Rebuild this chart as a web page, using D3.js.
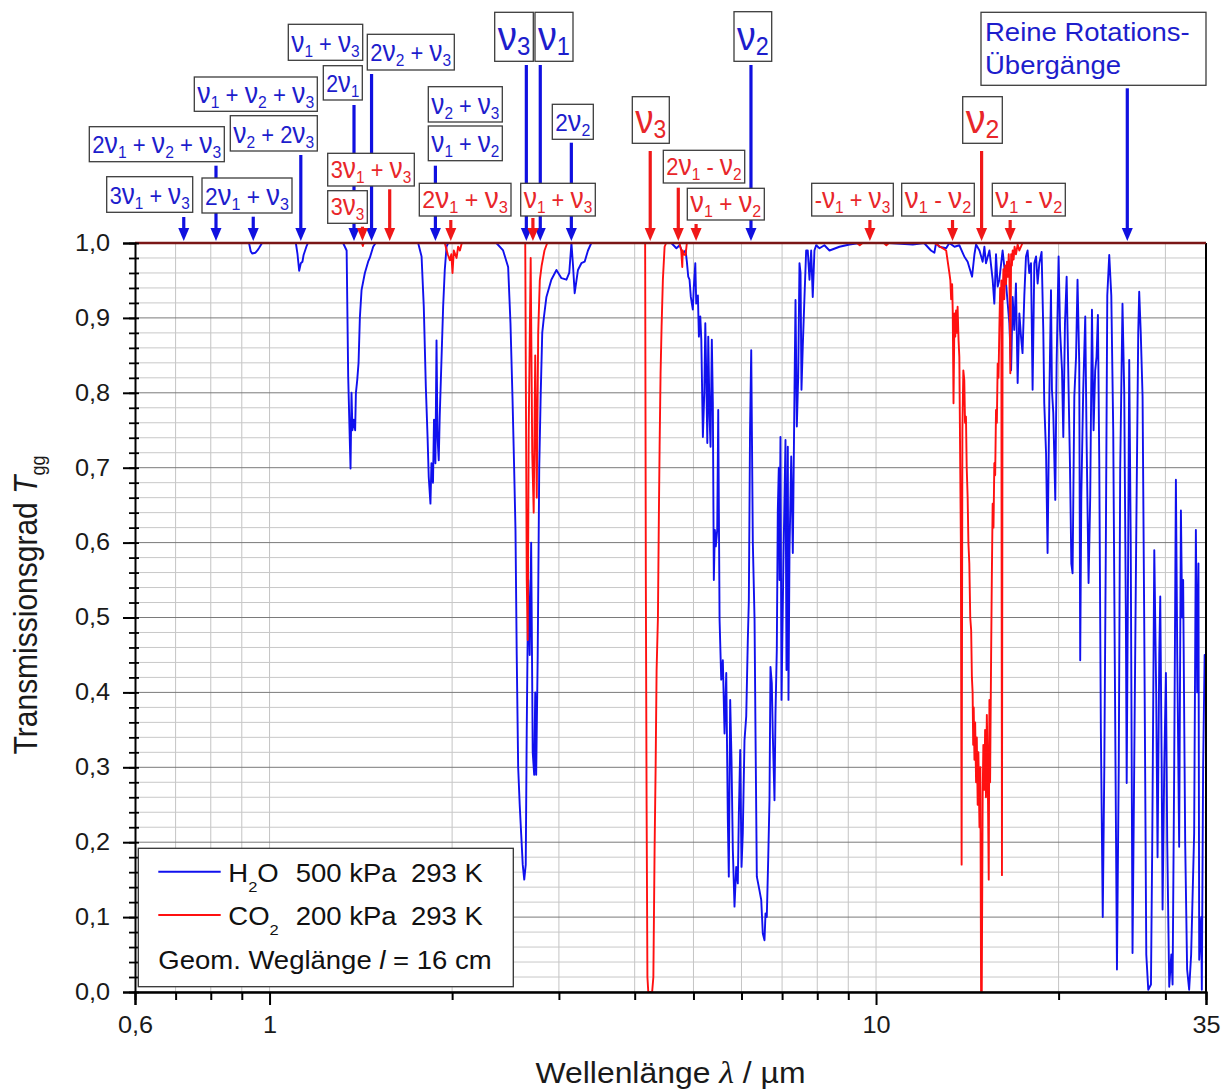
<!DOCTYPE html>
<html>
<head>
<meta charset="utf-8">
<script src="https://cdn.jsdelivr.net/npm/d3@7"></script>
<style>
  body { margin: 0; background: #fff; }
  svg text { font-family: "Liberation Sans", Arial, sans-serif; }
</style>
</head>
<body>
<svg id="chart" width="1228" height="1089"></svg>
<script>
// ---- Spectra: [wavelength in µm, transmission] ----
const h2oSpectrum = [
  [0.6,1.0],[0.925,1.0],[0.931,0.989],[0.936,0.986],[0.948,0.987],[0.955,0.990],[0.962,0.994],[0.972,1.0],
  [1.105,1.0],[1.112,0.985],[1.119,0.963],[1.126,0.973],[1.133,0.975],[1.138,0.984],[1.150,0.995],[1.157,1.0],
  [1.322,1.0],[1.340,0.99],[1.348,0.821],[1.357,0.728],[1.360,0.699],[1.365,0.80],[1.370,0.75],[1.377,0.764],
  [1.384,0.75],[1.388,0.80],[1.395,0.817],[1.402,0.84],[1.409,0.90],[1.418,0.937],[1.436,0.96],[1.454,0.975],
  [1.463,0.98],[1.482,0.995],[1.496,1.0],
  [1.758,1.0],[1.781,0.982],[1.796,0.915],[1.810,0.808],[1.822,0.741],[1.830,0.688],[1.842,0.652],[1.849,0.706],
  [1.860,0.68],[1.867,0.764],[1.877,0.706],[1.885,0.87],[1.892,0.741],[1.901,0.71],[1.908,0.768],[1.920,0.839],
  [1.933,0.915],[1.945,0.964],[1.958,0.995],[1.970,1.0],
  [2.366,1.0],[2.427,0.99],[2.474,0.968],[2.496,0.893],[2.515,0.795],[2.530,0.706],[2.544,0.617],[2.556,0.45],
  [2.570,0.30],[2.585,0.25],[2.600,0.21],[2.615,0.17],[2.630,0.15],[2.645,0.17],[2.655,0.35],[2.670,0.55],
  [2.685,0.45],[2.700,0.60],[2.716,0.32],[2.731,0.29],[2.742,0.40],[2.752,0.29],[2.768,0.45],[2.784,0.70],
  [2.800,0.80],[2.816,0.88],[2.833,0.90],[2.861,0.928],[2.915,0.951],[2.972,0.964],[3.029,0.953],[3.087,0.951],
  [3.120,0.96],[3.146,1.0],[3.165,0.97],[3.185,0.933],[3.225,0.964],[3.267,0.973],[3.308,0.975],[3.350,0.99],[3.393,1.0],
  [4.597,1.0],[4.686,0.993],[4.745,0.997],[4.804,0.986],[4.853,0.99],[4.876,0.975],[4.902,0.955],[4.926,0.951],
  [4.950,0.928],[4.988,0.911],[5.007,0.942],[5.035,0.973],[5.053,0.919],[5.085,0.93],[5.104,0.875],[5.131,0.902],
  [5.151,0.871],[5.182,0.741],[5.210,0.80],[5.230,0.893],[5.249,0.822],[5.270,0.733],[5.289,0.875],[5.315,0.768],
  [5.335,0.728],[5.361,0.871],[5.382,0.786],[5.402,0.55],[5.423,0.617],[5.443,0.595],[5.472,0.617],[5.493,0.777],
  [5.521,0.497],[5.556,0.417],[5.590,0.443],[5.626,0.345],[5.663,0.426],[5.697,0.23],[5.718,0.154],[5.748,0.39],
  [5.777,0.31],[5.806,0.19],[5.843,0.114],[5.881,0.167],[5.917,0.145],[5.939,0.234],[5.971,0.323],[6.001,0.167],
  [6.030,0.212],[6.069,0.336],[6.109,0.368],[6.146,0.47],[6.170,0.523],[6.198,0.75],[6.226,0.857],[6.264,0.60],
  [6.305,0.497],[6.328,0.346],[6.360,0.154],[6.409,0.14],[6.467,0.123],[6.506,0.078],[6.548,0.069],[6.573,0.105],
  [6.605,0.10],[6.640,0.176],[6.673,0.256],[6.698,0.434],[6.732,0.412],[6.757,0.345],[6.801,0.256],[6.827,0.372],
  [6.861,0.457],[6.887,0.643],[6.913,0.70],[6.932,0.55],[6.957,0.741],[6.985,0.39],[7.037,0.58],[7.091,0.737],
  [7.118,0.43],[7.154,0.728],[7.172,0.39],[7.200,0.59],[7.247,0.715],[7.291,0.586],[7.338,0.804],[7.366,0.924],
  [7.403,0.755],[7.442,0.822],[7.478,0.973],[7.508,0.96],[7.535,0.804],[7.572,0.862],[7.621,0.928],[7.670,0.99],
  [7.717,0.99],[7.767,0.951],[7.817,0.99],[7.864,0.928],[7.915,0.99],[7.966,0.997],[8.068,0.993],[8.22,0.997],
  [8.380,0.99],[8.704,0.995],[9.042,0.998],[9.391,1.0],[10.5,1.0],[11.5,0.998],[12.0,1.0],
  [12.32,0.99],[12.48,0.987],[12.56,1.0],[12.72,0.995],[13.05,0.993],[13.21,1.0],[13.47,0.995],[13.72,0.997],
  [13.98,0.982],[14.16,0.975],[14.40,0.955],[14.53,0.985],[14.62,0.998],[14.81,0.99],[14.99,0.975],[15.09,0.995],
  [15.18,0.973],[15.38,0.99],[15.57,0.951],[15.67,0.919],[15.77,0.985],[15.87,0.942],[15.97,0.951],[16.17,0.99],
  [16.38,0.946],[16.59,0.893],[16.70,0.83],[16.80,0.928],[16.90,0.884],[17.01,0.946],[17.12,0.813],[17.23,0.906],
  [17.34,0.875],[17.44,0.853],[17.56,0.93],[17.67,0.982],[17.78,0.99],[17.89,0.96],[18.01,0.973],[18.12,0.804],
  [18.24,0.973],[18.36,0.982],[18.47,0.946],[18.59,0.973],[18.75,0.988],[18.87,0.884],[18.94,0.786],[19.07,0.719],
  [19.18,0.586],[19.31,0.795],[19.43,0.937],[19.50,0.804],[19.60,0.773],[19.75,0.657],[19.85,0.839],[20.00,0.982],
  [20.11,0.884],[20.26,0.83],[20.36,0.741],[20.49,0.893],[20.62,0.955],[20.75,0.826],[20.88,0.706],[20.99,0.572],
  [21.09,0.559],[21.23,0.795],[21.37,0.848],[21.49,0.951],[21.63,0.839],[21.71,0.443],[21.80,0.661],[21.96,0.804],
  [22.13,0.902],[22.24,0.741],[22.41,0.546],[22.55,0.661],[22.70,0.911],[22.84,0.75],[22.98,0.83],[23.10,0.848],
  [23.22,0.904],[23.34,0.706],[23.48,0.35],[23.65,0.10],[23.79,0.30],[23.93,0.60],[24.06,0.93],[24.24,0.984],
  [24.43,0.93],[24.61,0.75],[24.80,0.35],[24.96,0.03],[25.13,0.30],[25.27,0.70],[25.49,0.919],[25.66,0.80],
  [25.82,0.50],[25.90,0.279],[26.05,0.60],[26.15,0.844],[26.30,0.60],[26.48,0.052],[26.65,0.30],[26.85,0.60],
  [27.06,0.88],[27.16,0.935],[27.32,0.88],[27.51,0.795],[27.68,0.50],[27.90,0.05],[28.11,0.003],[28.40,0.01],
  [28.54,0.20],[28.76,0.59],[28.97,0.40],[29.12,0.18],[29.31,0.45],[29.42,0.528],[29.58,0.30],[29.68,0.11],
  [29.87,0.30],[30.06,0.426],[30.21,0.20],[30.44,0.007],[30.68,0.05],[30.83,0.01],[31.02,0.30],[31.22,0.684],
  [31.38,0.45],[31.61,0.194],[31.82,0.643],[31.97,0.50],[32.09,0.55],[32.34,0.20],[32.58,0.03],[32.83,0.003],
  [33.08,0.05],[33.46,0.212],[33.68,0.617],[33.85,0.40],[34.01,0.572],[34.11,0.043],[34.37,0.10],[34.45,0.003],
  [34.62,0.30],[34.82,0.45],[35,0.45]
];

const co2Spectrum = [
  [0.6,1.0],[1.42,1.0],[1.425,0.996],[1.43,1.0],
  [1.945,1.0],[1.967,0.985],[1.983,0.977],[1.994,0.985],[2.003,0.96],[2.013,0.99],[2.034,0.98],[2.046,0.995],
  [2.060,0.99],[2.075,1.0],
  [2.640,1.0],[2.655,0.55],[2.665,0.47],[2.675,0.75],[2.695,0.98],[2.711,0.72],[2.726,0.64],[2.742,0.85],
  [2.758,0.66],[2.773,0.88],[2.790,0.95],[2.810,0.97],[2.840,0.99],[2.870,1.0],
  [4.162,1.0],[4.173,0.55],[4.185,0.25],[4.198,0.02],[4.212,0.0],[4.274,0.0],[4.294,0.02],[4.314,0.19],
  [4.331,0.30],[4.347,0.43],[4.369,0.50],[4.385,0.639],[4.397,0.728],[4.413,0.826],[4.430,0.888],[4.452,0.951],
  [4.481,0.995],[4.507,1.0],
  [4.740,1.0],[4.773,0.99],[4.792,0.968],[4.800,0.99],[4.815,0.985],[4.853,0.984],[4.876,1.0],
  [9.30,1.0],[9.40,0.997],[9.50,1.0],[10.3,1.0],[10.4,0.997],[10.5,1.0],
  [12.48,1.0],[13.05,0.99],[13.21,0.96],[13.26,0.95],[13.30,0.925],[13.35,0.945],[13.38,0.91],[13.42,0.786],
  [13.47,0.906],[13.51,0.875],[13.55,0.91],[13.59,0.88],[13.63,0.915],[13.68,0.87],[13.72,0.848],[13.80,0.60],
  [13.84,0.17],[13.88,0.75],[13.93,0.83],[13.98,0.817],[14.02,0.76],[14.07,0.768],[14.11,0.70],[14.16,0.661],
  [14.20,0.60],[14.25,0.572],[14.30,0.50],[14.35,0.483],[14.39,0.42],[14.43,0.40],[14.46,0.33],[14.49,0.38],
  [14.53,0.31],[14.57,0.36],[14.62,0.28],[14.66,0.34],[14.71,0.25],[14.75,0.32],[14.81,0.22],[14.86,0.30],
  [14.90,0.0],[14.94,0.0],[14.99,0.26],[15.03,0.33],[15.09,0.27],[15.13,0.35],[15.18,0.26],[15.23,0.37],
  [15.28,0.30],[15.34,0.15],[15.38,0.39],[15.42,0.28],[15.48,0.45],[15.52,0.55],[15.57,0.652],[15.62,0.62],
  [15.67,0.706],[15.72,0.69],[15.77,0.777],[15.82,0.76],[15.87,0.839],[15.92,0.82],[15.97,0.884],[16.02,0.94],
  [16.06,0.89],[16.09,0.95],[16.13,0.156],[16.17,0.928],[16.22,0.965],[16.27,0.925],[16.33,0.97],[16.38,0.945],
  [16.44,0.975],[16.50,0.955],[16.55,0.985],[16.59,0.965],[16.65,0.826],[16.70,0.985],[16.75,0.97],[16.80,0.99],
  [16.86,0.978],[16.92,0.995],[17.01,0.985],[17.12,0.998],[17.23,0.99],[17.44,1.0],[35,1.0]
];

// ---- Axis ticks ----
const xTickValues = [0.6, 1, 10, 35];
const xTickLabels = ["0,6", "1", "10", "35"];
const xMinorTicks = [0.7, 0.8, 0.9, 2, 3, 4, 5, 6, 7, 8, 9, 20, 30];
const yTickValues = [0, 0.1, 0.2, 0.3, 0.4, 0.5, 0.6, 0.7, 0.8, 0.9, 1.0];
const yTickLabels = ["0,0", "0,1", "0,2", "0,3", "0,4", "0,5", "0,6", "0,7", "0,8", "0,9", "1,0"];

// ---- Band assignments ----
const bandLabels = [
  "3ν1 + ν3", "2ν1 + ν2 + ν3", "2ν1 + ν3", "ν1 + ν2 + ν3", "ν2 + 2ν3", "ν1 + ν3", "2ν1", "2ν2 + ν3",
  "ν2 + ν3", "ν1 + ν2", "ν3", "ν1", "2ν2", "ν2", "Reine Rotations-|Übergänge",
  "3ν1 + ν3", "3ν3", "2ν1 + ν3", "ν1 + ν3", "ν3", "2ν1 - ν2", "ν1 + ν2", "ν2", "-ν1 + ν3", "ν1 - ν2", "ν1 - ν2"
];
const bandWavelengths = [
  0.722, 0.816, 0.940, 1.126, 1.126, 1.378, 1.378, 1.473, 1.877, 1.877, 2.651, 2.795, 3.145, 6.22, 25.96,
  1.578, 1.423, 1.99, 2.718, 4.243, 4.72, 5.05, 14.93, 9.77, 13.37, 16.64
];
const bandSpecies = [
  "H2O","H2O","H2O","H2O","H2O","H2O","H2O","H2O","H2O","H2O","H2O","H2O","H2O","H2O","H2O",
  "CO2","CO2","CO2","CO2","CO2","CO2","CO2","CO2","CO2","CO2","CO2"
];

// Label box placement: [left, top, width, height, arrow start (null = shares the arrow of the box below), large]
const bandBoxLayout = [
  [106.7,176.7,86,35.6,217,0], [89.3,126.7,135,35,165.7,0], [202,178,90,35,216.7,0],
  [194.3,77,123,34.3,null,0], [230.3,115.7,87,35.3,155,0], [288.3,24.3,74.4,36,null,0],
  [323.3,65.7,39,34.3,105,0], [367.3,34.3,87,35.7,74,0], [428.3,86.7,74,35.3,null,0],
  [428.3,126,74,34.7,165.7,0], [494.7,12.3,38.6,49,65,1], [535,12.3,38,49,65,1],
  [552.3,104.3,41,35,142.7,0], [734,11.7,37.7,49.6,65,1], [981,12.3,225,73,88.3,0],
  [327.7,153.3,86.6,32.7,189.3,0], [327.7,190.7,39.6,32.6,226.7,0], [419.3,183.3,91.7,32.7,220,0],
  [520.7,183.3,74.6,32.7,218,0], [632.3,96.7,37,46.6,151,1], [663.3,150.3,81.4,32.7,187.7,0],
  [687.3,188.3,77,31.7,224,0], [962.7,96.7,39.6,46.6,151,1], [811.7,183.3,81.6,32.7,220,0],
  [901.7,183.3,72.6,32.7,220,0], [992.3,183.3,73,32.7,220,0]
];

const colors = {
  H2O: { line: "#1010ee", text: "#1d1dcc", arrow: "#1010e0" },
  CO2: { line: "#ff1010", text: "#e8262a", arrow: "#f01818" }
};
const STRETCH = 1.1;

const svg = d3.select("#chart");
const x = d3.scaleLog().domain([0.6, 35]).range([135, 1206]);
const y = d3.scaleLinear().domain([0, 1]).range([992, 243]);
const [x0, x1] = x.range();
const [yb, yt] = y.range();

// ---- Grid ----
const grid = svg.append("g");
grid.selectAll("line.vg").data(xMinorTicks.concat([1, 10])).join("line")
  .attr("x1", d => x(d)).attr("x2", d => x(d)).attr("y1", yt).attr("y2", yb)
  .attr("stroke", "#c4c4c4").attr("stroke-width", 1);
const yGridValues = y.ticks(50);
grid.selectAll("line.hg").data(yGridValues).join("line")
  .attr("x1", x0).attr("x2", x1).attr("y1", d => y(d)).attr("y2", d => y(d))
  .attr("stroke", d => Math.abs(d * 10 - Math.round(d * 10)) < 1e-6 ? "#7a7a7a" : "#c8c8c8")
  .attr("stroke-width", 1);

// ---- Spectra ----
const line = d3.line().x(d => x(d[0])).y(d => y(d[1]));
svg.append("path").datum(h2oSpectrum).attr("d", line)
  .attr("fill", "none").attr("stroke", colors.H2O.line).attr("stroke-width", 1.9).attr("stroke-linejoin", "round");
svg.append("path").datum(co2Spectrum).attr("d", line)
  .attr("fill", "none").attr("stroke", colors.CO2.line).attr("stroke-width", 1.9).attr("stroke-linejoin", "round");

// ---- Frame ----
svg.append("line").attr("x1", x1).attr("x2", x1).attr("y1", yt).attr("y2", yb).attr("stroke", "#000").attr("stroke-width", 2);
svg.append("line").attr("x1", x0).attr("x2", x1).attr("y1", yt).attr("y2", yt).attr("stroke", "#7a1616").attr("stroke-width", 2.4);

// ---- Axes ----
function styleAxis(g) {
  g.select(".domain").attr("stroke", "#000").attr("stroke-width", 2);
  g.selectAll(".tick line").attr("stroke", "#000").attr("stroke-width", 2);
  g.selectAll(".tick text").attr("fill", "#1a1a1a").attr("font-size", 23)
    .attr("font-family", "'Liberation Sans', Arial, sans-serif");
}
const xMinorAxis = svg.append("g").attr("transform", `translate(0,${yb})`)
  .call(d3.axisBottom(x).tickValues(xMinorTicks).tickSize(8).tickFormat(""));
styleAxis(xMinorAxis);
const xAxis = svg.append("g").attr("transform", `translate(0,${yb})`)
  .call(d3.axisBottom(x).tickValues(xTickValues).tickFormat((d, i) => xTickLabels[i]).tickSize(13).tickPadding(12));
styleAxis(xAxis);
xAxis.selectAll(".tick text").attr("transform", `scale(${STRETCH},1)`);

const yMinorAxis = svg.append("g").attr("transform", `translate(${x0 + 4},0)`)
  .call(d3.axisLeft(y).tickValues(yGridValues).tickSize(10).tickFormat(""));
styleAxis(yMinorAxis);
yMinorAxis.select(".domain").remove();
yMinorAxis.selectAll(".tick line").attr("stroke-width", 1.8);
const yAxis = svg.append("g").attr("transform", `translate(${x0},0)`)
  .call(d3.axisLeft(y).tickValues(yTickValues).tickFormat((d, i) => yTickLabels[i]).tickSize(12).tickPadding(10.7));
styleAxis(yAxis);
yAxis.selectAll(".tick text").attr("transform", `scale(${STRETCH},1)`);

// ---- Axis titles ----
const xt = svg.append("g").attr("transform", `translate(${(x0 + x1) / 2},1083) scale(${STRETCH},1)`)
  .append("text").attr("text-anchor", "middle").attr("font-size", 29).attr("fill", "#1a1a1a");
xt.append("tspan").text("Wellenlänge ");
xt.append("tspan").attr("font-family", "'Liberation Serif', serif").attr("font-style", "italic").attr("font-size", 31).text("λ");
xt.append("tspan").text(" / µm");

const ytg = svg.append("g").attr("transform", `translate(37,605) scale(${STRETCH},1) rotate(-90)`)
  .append("text").attr("text-anchor", "middle").attr("font-size", 30).attr("fill", "#1a1a1a");
ytg.append("tspan").text("Transmissionsgrad ");
ytg.append("tspan").attr("font-style", "italic").text("T");
ytg.append("tspan").attr("font-size", 18).attr("dy", 7).text("gg");

// ---- Band annotations ----
const ann = svg.append("g");
const arrowLayer = ann.append("g");
const boxLayer = ann.append("g");
const tipY = y(1) - 2;

bandLabels.forEach((label, i) => {
  const [bx, by, bw, bh, arrowTop, big] = bandBoxLayout[i];
  const c = colors[bandSpecies[i]];
  const ax = x(bandWavelengths[i]);
  if (arrowTop !== null) {
    arrowLayer.append("line").attr("x1", ax).attr("x2", ax).attr("y1", arrowTop).attr("y2", tipY - 10)
      .attr("stroke", c.arrow).attr("stroke-width", 3.2);
    arrowLayer.append("path")
      .attr("d", `M${ax - 5.5},${tipY - 13} L${ax + 5.5},${tipY - 13} L${ax},${tipY} Z`)
      .attr("fill", c.arrow);
  }
  boxLayer.append("rect").attr("x", bx).attr("y", by).attr("width", bw).attr("height", bh)
    .attr("fill", "#fff").attr("stroke", "#3c3c3c").attr("stroke-width", 1.3);

  if (label.includes("|")) {
    label.split("|").forEach((ln, k) => {
      boxLayer.append("g").attr("transform", `translate(${bx + 4},${by + 28.4 + k * 33.3}) scale(${STRETCH},1)`)
        .append("text").attr("font-size", 25).attr("fill", c.text).text(ln);
    });
    return;
  }

  const fs = big ? { base: 30, nu: 40, sub: 25, drop: 5 } : { base: 24, nu: 29, sub: 17, drop: 5 };
  const g = boxLayer.append("g");
  const t = g.append("text").attr("fill", c.text);
  let lowered = false;
  label.split(/(ν\d)/).filter(s => s.length).forEach(part => {
    const m = part.match(/^ν(\d)$/);
    if (m) {
      t.append("tspan").attr("font-size", fs.nu).attr("dy", lowered ? -fs.drop : 0).text("ν");
      t.append("tspan").attr("font-size", fs.sub).attr("dy", fs.drop).text(m[1]);
      lowered = true;
    } else {
      t.append("tspan").attr("font-size", fs.base).attr("dy", lowered ? -fs.drop : 0)
        .attr("xml:space", "preserve").text(part);
      lowered = false;
    }
  });
  const bb = t.node().getBBox();
  const sx = Math.min(STRETCH, (bw - 6) / bb.width);
  const baseY = by + bh * (big ? 0.77 : 0.76);
  g.attr("transform", `translate(${bx + bw / 2},${baseY}) scale(${sx},1) translate(${-(bb.x + bb.width / 2)},0)`);
});

// ---- Legend ----
const lg = svg.append("g");
lg.append("rect").attr("x", 138.3).attr("y", 848.3).attr("width", 375).attr("height", 138.4)
  .attr("fill", "#fff").attr("stroke", "#333").attr("stroke-width", 1.3);
const legendRows = [
  { key: "H2O", main: "H", sub: "2", tail: "O", vals: ["500 kPa", "293 K"], y: 871.7 },
  { key: "CO2", main: "CO", sub: "2", tail: "", vals: ["200 kPa", "293 K"], y: 915 }
];
legendRows.forEach(r => {
  lg.append("line").attr("x1", 158.3).attr("x2", 220.7).attr("y1", r.y).attr("y2", r.y)
    .attr("stroke", colors[r.key].line).attr("stroke-width", 2);
  const base = r.y + 10;
  const t = lg.append("g").attr("transform", `translate(228.3,${base}) scale(${STRETCH},1)`)
    .append("text").attr("font-size", 25).attr("fill", "#111");
  t.append("tspan").text(r.main);
  t.append("tspan").attr("font-size", 15).attr("dy", 10).text(r.sub);
  if (r.tail) t.append("tspan").attr("dy", -10).text(r.tail);
  lg.append("g").attr("transform", `translate(295.7,${base}) scale(${STRETCH},1)`)
    .append("text").attr("font-size", 25).attr("fill", "#111").text(r.vals[0]);
  lg.append("g").attr("transform", `translate(411,${base}) scale(${STRETCH},1)`)
    .append("text").attr("font-size", 25).attr("fill", "#111").text(r.vals[1]);
});
const gt = lg.append("g").attr("transform", `translate(158.3,969.3) scale(${STRETCH},1)`)
  .append("text").attr("font-size", 25).attr("fill", "#111");
gt.append("tspan").text("Geom. Weglänge ");
gt.append("tspan").attr("font-style", "italic").text("l");
gt.append("tspan").text(" = 16 cm");
</script>
</body>
</html>
